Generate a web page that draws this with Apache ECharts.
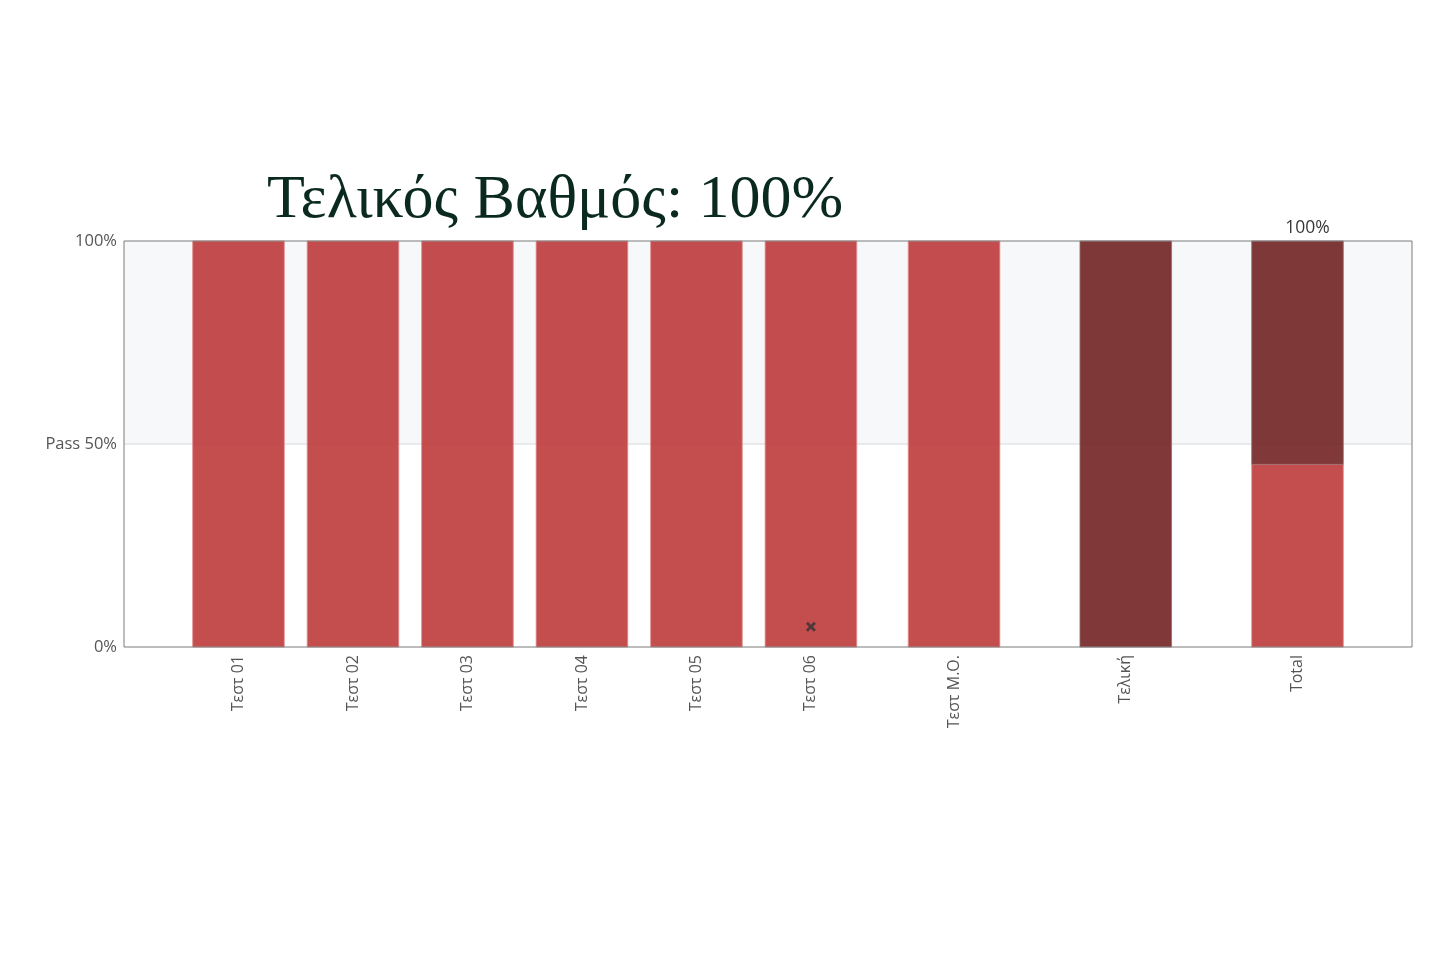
<!DOCTYPE html>
<html>
<head>
<meta charset="utf-8">
<script src="https://cdn.jsdelivr.net/npm/echarts@6/dist/echarts.min.js"></script>
<style>
html,body{margin:0;padding:0;background:#fff;}
#chart{width:1444px;height:965px;}
</style>
</head>
<body>
<div id="chart"></div>
<script>
// ---- data ----
const categories = ['Τεστ 01','Τεστ 02','Τεστ 03','Τεστ 04','Τεστ 05','Τεστ 06','Τεστ Μ.Ο.','Τελική','Total'];
const positions = [1, 2, 3, 4, 5, 6, 7.25, 8.75, 10.25];
// score bars (light red) – value per category
const scoreValues = [100, 100, 100, 100, 100, 100, 100, null, 45];
// final-exam contribution (dark red), stacked on top of the score
const finalValues = [null, null, null, null, null, null, null, 100, 55];
const missedMarkers = [[6, 5]];           // ✖ marker (position, value)
const totalLabel = '100%';
const titleText = 'Τελικός Βαθμός: 100%';
const yTicks = [0, 50, 100];
const yTickLabels = {0: '0%', 50: 'Pass 50%', 100: '100%'};
const passLevel = 50;

const lightRed = 'rgba(188,52,53,0.88)';
const darkRed = 'rgba(110,28,29,0.88)';

// build rect rows [x, y0, y1]
const lightRows = [];
const darkRows = [];
positions.forEach((p, i) => {
  const s = scoreValues[i] || 0;
  if (scoreValues[i] != null) lightRows.push([p, 0, s]);
  if (finalValues[i] != null) darkRows.push([p, s, s + finalValues[i]]);
});

function rectRender(color, border) {
  return function (params, api) {
    const x = api.value(0), y0 = api.value(1), y1 = api.value(2);
    const w = api.size([0.8, 0])[0];
    const p0 = api.coord([x, y0]);
    const p1 = api.coord([x, y1]);
    return {
      type: 'rect',
      shape: {x: p0[0] - w / 2, y: p1[1], width: w, height: p0[1] - p1[1]},
      style: {fill: color, stroke: border, lineWidth: 1}
    };
  };
}

const chart = echarts.init(document.getElementById('chart'));
chart.setOption({
  animation: false,
  backgroundColor: '#fff',
  title: {
    text: titleText,
    left: 262,
    top: 165,
    textStyle: {fontFamily: 'Liberation Serif', fontWeight: 'normal', fontSize: 62, color: '#0b2a1f'}
  },
  grid: {left: 124, right: 32, top: 241, bottom: 318, show: true, borderColor: '#7a7a7a', borderWidth: 1, backgroundColor: 'transparent', z: 10},
  xAxis: {
    type: 'value', min: 0, max: 11.25,
    splitLine: {show: false},
    axisLine: {show: false},
    axisTick: {show: false},
    axisLabel: {
      customValues: positions,
      rotate: 90,
      margin: 8,
      fontFamily: 'Open Sans', fontSize: 16, color: '#555',
      formatter: v => { const i = positions.indexOf(v); return i >= 0 ? categories[i] : ''; }
    }
  },
  yAxis: {
    type: 'value', min: 0, max: 100,
    splitLine: {show: false},
    axisLine: {show: false},
    axisTick: {show: false},
    axisLabel: {
      customValues: yTicks,
      margin: 7,
      fontFamily: 'Open Sans', fontSize: 16.5, color: '#555',
      formatter: v => yTickLabels[v] || ''
    }
  },
  series: [
    {
      type: 'line', data: [], silent: true, z: 0,
      markArea: {silent: true, itemStyle: {color: '#f7f8fa'}, data: [[{yAxis: passLevel}, {yAxis: 100}]]},
      markLine: {silent: true, symbol: 'none', label: {show: false}, lineStyle: {color: '#e3e4e6', type: 'solid', width: 1.5}, data: [{yAxis: passLevel}]}
    },
    {
      type: 'custom', renderItem: rectRender(lightRed, 'rgba(225,140,140,0.8)'),
      encode: {x: 0, y: [1, 2]}, data: lightRows, z: 5
    },
    {
      type: 'custom', renderItem: rectRender(darkRed, 'rgba(150,110,110,0.8)'),
      encode: {x: 0, y: [1, 2]}, data: darkRows, z: 5
    },
    {
      type: 'scatter',
      data: [[positions[8], 100]],
      symbolSize: 0,
      label: {show: true, position: 'top', offset: [10, 1], formatter: totalLabel, fontFamily: 'Open Sans', fontSize: 17.5, color: '#000'},
      z: 6
    },
    {
      type: 'scatter',
      data: missedMarkers,
      symbol: 'path://M2,0 L5,3 L8,0 L10,2 L7,5 L10,8 L8,10 L5,7 L2,10 L0,8 L3,5 L0,2 Z',
      symbolSize: 10,
      itemStyle: {color: '#333'},
      z: 7
    }
  ]
});
</script>
</body>
</html>
